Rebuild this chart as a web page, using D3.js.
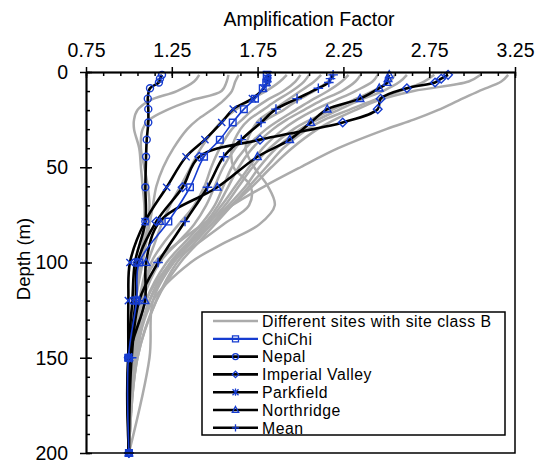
<!DOCTYPE html>
<html>
<head>
<meta charset="utf-8">
<script src="https://cdn.jsdelivr.net/npm/d3@7"></script>
<style>
    body { margin: 0; background: #fff; }
    text { font-family: "Liberation Sans", Arial, sans-serif; fill: #000; }
</style>
</head>
<body>
<svg id="chart" width="543" height="463"></svg>
<script>
// depths (m) of the marked points of the earthquake series
var depths = [1.5, 3.5, 5.5, 8.5, 14, 19.5, 26.5, 35.5, 44.5, 60.5, 78.5, 100, 120, 150, 200];

var chichi     = [1.803, 1.806, 1.80, 1.78, 1.735, 1.67, 1.605, 1.53, 1.438, 1.356, 1.23, 1.06, 1.045, 0.997, 1.0];
var nepal      = [1.193, 1.181, 1.175, 1.123, 1.11, 1.113, 1.113, 1.104, 1.10, 1.096, 1.096, 1.035, 1.02, 0.995, 1.0];
var imperial   = [2.86, 2.82, 2.784, 2.62, 2.467, 2.45, 2.246, 1.764, 1.41, 1.313, 1.16, 1.05, 1.04, 1.0, 1.0];
var parkfield  = [1.81, 1.81, 1.805, 1.785, 1.72, 1.608, 1.541, 1.443, 1.333, 1.22, 1.094, 1.006, 0.997, 0.997, 1.0];
var northridge = [2.517, 2.51, 2.505, 2.459, 2.347, 2.156, 2.06, 1.937, 1.749, 1.515, 1.18, 1.10, 1.094, 1.0, 1.0];
var mean       = [2.19, 2.175, 2.165, 2.104, 1.98, 1.857, 1.77, 1.655, 1.552, 1.458, 1.327, 1.17, 1.06, 1.016, 1.0];

// site class B profiles (grey)
var siteDepths = [1.5, 5, 10, 15, 20, 25, 30, 40, 50, 60, 70, 80, 90, 100, 120, 150, 200];
var sites = [
    [1.41, 1.38, 1.28, 1.12, 1.05, 1.03, 1.03, 1.06, 1.07, 1.08, 1.09, 1.09, 1.08, 1.06, 1.03, 1.00, 1.00],
    [1.58, 1.57, 1.54, 1.36, 1.22, 1.12, 1.08, 1.07, 1.09, 1.11, 1.12, 1.11, 1.09, 1.07, 1.04, 1.01, 1.00],
    [1.64, 1.62, 1.60, 1.55, 1.48, 1.40, 1.34, 1.26, 1.20, 1.16, 1.14, 1.12, 1.10, 1.08, 1.04, 1.02, 1.00],
    [1.92, 1.88, 1.80, 1.70, 1.62, 1.55, 1.50, 1.42, 1.36, 1.30, 1.24, 1.19, 1.15, 1.11, 1.06, 1.02, 1.00],
    [2.00, 1.97, 1.90, 1.80, 1.72, 1.66, 1.60, 1.53, 1.48, 1.44, 1.38, 1.29, 1.20, 1.13, 1.07, 1.02, 1.00],
    [2.05, 2.02, 1.95, 1.86, 1.78, 1.70, 1.65, 1.60, 1.61, 1.71, 1.70, 1.55, 1.40, 1.25, 1.10, 1.03, 1.00],
    [2.12, 2.08, 2.00, 1.92, 1.84, 1.76, 1.72, 1.68, 1.73, 1.81, 1.85, 1.76, 1.55, 1.36, 1.14, 1.04, 1.00],
    [2.20, 2.16, 2.08, 1.98, 1.90, 1.80, 1.72, 1.62, 1.55, 1.50, 1.45, 1.38, 1.28, 1.18, 1.08, 1.02, 1.00],
    [2.28, 2.24, 2.16, 2.06, 1.97, 1.88, 1.80, 1.68, 1.60, 1.55, 1.50, 1.42, 1.32, 1.22, 1.10, 1.03, 1.00],
    [2.35, 2.32, 2.24, 2.12, 2.02, 1.92, 1.84, 1.72, 1.64, 1.58, 1.52, 1.44, 1.34, 1.24, 1.12, 1.04, 1.00],
    [2.45, 2.42, 2.32, 2.20, 2.08, 1.98, 1.90, 1.78, 1.70, 1.62, 1.54, 1.45, 1.35, 1.25, 1.12, 1.04, 1.00],
    [2.55, 2.52, 2.42, 2.30, 2.18, 2.06, 1.96, 1.82, 1.72, 1.64, 1.56, 1.46, 1.36, 1.26, 1.14, 1.12, 1.00],
    [2.62, 2.58, 2.48, 2.34, 2.22, 2.10, 2.00, 1.86, 1.76, 1.68, 1.58, 1.48, 1.38, 1.28, 1.16, 1.05, 1.00],
    [2.78, 2.72, 2.58, 2.42, 2.28, 2.14, 2.04, 1.90, 1.80, 1.70, 1.60, 1.50, 1.40, 1.30, 1.16, 1.05, 1.00],
    [3.05, 2.98, 2.66, 2.45, 2.32, 2.20, 2.10, 1.95, 1.83, 1.72, 1.60, 1.48, 1.36, 1.26, 1.12, 1.04, 1.00],
    [3.21, 3.17, 3.04, 2.92, 2.80, 2.66, 2.50, 2.22, 2.00, 1.79, 1.60, 1.43, 1.28, 1.15, 1.06, 1.02, 1.00]
];

var xTicks = [0.75, 1.25, 1.75, 2.25, 2.75, 3.25];
var yTicks = [0, 50, 100, 150, 200];

(function () {
    'use strict';

    var margin = { top: 72, right: 28, bottom: 10, left: 86 },
        width = 543 - margin.left - margin.right,
        height = 463 - margin.top - margin.bottom;

    var blue = '#163cd0',
        grey = '#ababab';

    var svg = d3.select('#chart');
    var g = svg.append('g').attr('transform', 'translate(' + margin.left + ',' + margin.top + ')');

    var x = d3.scaleLinear().domain([0.75, 3.25]).range([0, width]);
    var y = d3.scaleLinear().domain([0, 200]).range([0, height]);

    var line = d3.line()
        .x(function (d) { return x(d[0]); })
        .y(function (d) { return y(d[1]); })
        .curve(d3.curveCatmullRom.alpha(0.5));

    function pairs(values, ds) {
        return values.map(function (v, i) { return [v, ds[i]]; });
    }

    // marker shapes
    var shapes = {
        square: function (s) { return 'M' + -s + ',' + -s + 'h' + 2 * s + 'v' + 2 * s + 'h' + -2 * s + 'Z'; },
        circle: function (s) { return 'M' + -s + ',0a' + s + ',' + s + ' 0 1,0 ' + 2 * s + ',0a' + s + ',' + s + ' 0 1,0 ' + -2 * s + ',0Z'; },
        diamond: function (s) { return 'M0,' + -s + 'L' + s + ',0L0,' + s + 'L' + -s + ',0Z'; },
        cross: function (s) { return 'M' + -s + ',' + -s + 'L' + s + ',' + s + 'M' + -s + ',' + s + 'L' + s + ',' + -s; },
        star: function (s) { return 'M' + -s + ',' + -s + 'L' + s + ',' + s + 'M' + -s + ',' + s + 'L' + s + ',' + -s + 'M0,' + -s * 1.2 + 'V' + s * 1.2; },
        triangle: function (s) { return 'M0,' + -s * 1.1 + 'L' + s + ',' + s * 0.75 + 'L' + -s + ',' + s * 0.75 + 'Z'; },
        plus: function (s) { return 'M' + -s + ',0H' + s + 'M0,' + -s + 'V' + s; }
    };

    var series = [
        { name: 'ChiChi', values: chichi, color: blue, width: 1.6, shape: 'square', size: 3.3, lsize: 3 },
        { name: 'Nepal', values: nepal, color: '#000', width: 2.6, shape: 'circle', size: 3.5, lsize: 3 },
        { name: 'Imperial Valley', values: imperial, color: '#000', width: 2.6, shape: 'diamond', size: 4.3, lsize: 3.2 },
        { name: 'Parkfield', values: parkfield, color: '#000', width: 2.6, shape: 'cross', size: 3.6, lsize: 3, legendShape: 'star' },
        { name: 'Northridge', values: northridge, color: '#000', width: 2.6, shape: 'triangle', size: 3.8, lsize: 3.2 },
        { name: 'Mean', values: mean, color: '#000', width: 2.6, shape: 'plus', size: 4.8, lsize: 3.6 }
    ];

    // grey site profiles
    g.append('g').selectAll('path').data(sites).enter().append('path')
        .attr('d', function (d) { return line(pairs(d, siteDepths)); })
        .attr('fill', 'none')
        .attr('stroke', grey)
        .attr('stroke-width', 2.5);

    // event lines (ChiChi drawn last so the blue stays on top)
    g.append('g').selectAll('path').data(series.slice(1).concat(series.slice(0, 1))).enter().append('path')
        .attr('d', function (d) { return line(pairs(d.values, depths)); })
        .attr('fill', 'none')
        .attr('stroke', function (d) { return d.color; })
        .attr('stroke-width', function (d) { return d.width; });

    // markers
    series.forEach(function (s) {
        g.append('g').selectAll('path').data(pairs(s.values, depths)).enter().append('path')
            .attr('transform', function (d) { return 'translate(' + x(d[0]) + ',' + y(d[1]) + ')'; })
            .attr('d', shapes[s.shape](s.size))
            .attr('fill', 'none')
            .attr('stroke', blue)
            .attr('stroke-width', 1.4);
    });

    // axes: outer major ticks with labels, inner major + minor ticks
    var xMinor = d3.range(0, 26).map(function (i) { return 0.75 + i * 0.1; });
    var yMinor = d3.range(0, 21).map(function (i) { return i * 10; });

    var top = g.append('g')
        .call(d3.axisTop(x).tickValues(xTicks).tickFormat(d3.format('.2f')).tickSizeInner(5).tickSizeOuter(0).tickPadding(10));
    g.append('g')
        .call(d3.axisBottom(x).tickValues(xMinor).tickFormat('').tickSizeInner(4).tickSizeOuter(0));
    g.append('g')
        .call(d3.axisBottom(x).tickValues(xTicks).tickFormat('').tickSizeInner(6).tickSizeOuter(0));

    var left = g.append('g')
        .call(d3.axisLeft(y).tickValues(yTicks).tickFormat(d3.format('d')).tickSizeInner(6).tickSizeOuter(0).tickPadding(12));
    g.append('g')
        .call(d3.axisRight(y).tickValues(yMinor).tickFormat('').tickSizeInner(4).tickSizeOuter(0));
    g.append('g')
        .call(d3.axisRight(y).tickValues(yTicks).tickFormat('').tickSizeInner(6).tickSizeOuter(0));

    g.selectAll('.domain, .tick line').attr('stroke', '#000').attr('stroke-width', 1.5);
    top.selectAll('text').style('font-size', '19.5px').attr('fill', '#000');
    left.selectAll('text').style('font-size', '19.5px').attr('fill', '#000');

    // right and bottom frame
    g.append('path')
        .attr('d', 'M' + x(3.25) + ',' + y(0) + 'V' + y(200) + 'H' + x(0.75))
        .attr('fill', 'none')
        .attr('stroke', '#000')
        .attr('stroke-width', 1.5);

    // titles
    svg.append('text')
        .attr('x', 309)
        .attr('y', 26)
        .attr('text-anchor', 'middle')
        .style('font-size', '19.5px')
        .text('Amplification Factor');

    svg.append('text')
        .attr('transform', 'translate(30,259) rotate(-90)')
        .attr('text-anchor', 'middle')
        .style('font-size', '18.5px')
        .text('Depth (m)');

    // legend
    var legend = svg.append('g').attr('transform', 'translate(202,312)');
    legend.append('rect')
        .attr('width', 303)
        .attr('height', 123)
        .attr('fill', '#fff')
        .attr('stroke', '#000')
        .attr('stroke-width', 1.5);

    var entries = [{ name: 'Different sites with site class B', color: grey, width: 2.5 }].concat(series);
    var rows = legend.selectAll('g.row').data(entries).enter().append('g')
        .attr('class', 'row')
        .attr('transform', function (d, i) { return 'translate(0,' + (9 + i * 17.8) + ')'; });

    rows.append('line')
        .attr('x1', 11).attr('x2', 56)
        .attr('stroke', function (d) { return d.color; })
        .attr('stroke-width', function (d) { return d.width === 1.6 ? 2.2 : 2.6; });

    rows.filter(function (d) { return d.shape; }).append('path')
        .attr('transform', 'translate(33.5,0)')
        .attr('d', function (d) { return shapes[d.legendShape || d.shape](d.lsize); })
        .attr('fill', 'none')
        .attr('stroke', blue)
        .attr('stroke-width', 1.3);

    rows.append('text')
        .attr('x', 60)
        .attr('dy', '0.36em')
        .style('font-size', '15.8px')
        .style('letter-spacing', '0.5px')
        .text(function (d) { return d.name; });
})();
</script>
</body>
</html>
